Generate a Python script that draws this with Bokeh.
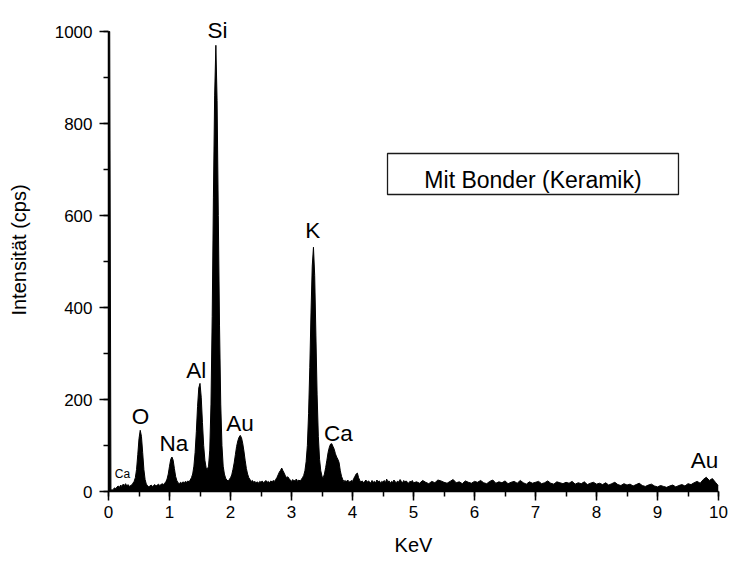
import numpy as np
from bokeh.plotting import figure
from bokeh.models import (ColumnDataSource, SingleIntervalTicker, BoxAnnotation,
                          Label, Range1d)
from bokeh.embed import file_html
from bokeh.resources import INLINE
from bokeh.core.properties import value

# ---- data -------------------------------------------------------------
# channel energies (keV): fine channels 0..5 keV, coarser 5.05..10 keV
kev_low = np.round(np.arange(251) * 0.02, 2)
kev_high = np.round(5.05 + np.arange(100) * 0.05, 2)

# counts per second
cps_low = [
    1000, 1000, 4, 3, 5, 8, 6, 10, 12, 9,          # 0.00-0.18
    14, 11, 16, 13, 17, 12, 15, 11, 13, 14,        # 0.20-0.38
    18, 22, 30, 48, 80, 115, 133, 120, 85, 48,     # 0.40-0.58  O
    26, 16, 13, 10, 12, 14, 11, 13, 15, 12,        # 0.60-0.78
    14, 16, 13, 15, 17, 15, 18, 21, 27, 38,        # 0.80-0.98
    55, 70, 75, 68, 50, 33, 24, 19, 17, 20,        # 1.00-1.18  Na
    18, 21, 19, 22, 20, 23, 21, 25, 30, 38,        # 1.20-1.38
    55, 85, 130, 185, 225, 235, 205, 150, 100, 68,  # 1.40-1.58  Al
    52, 48, 55, 90, 190, 380, 640, 860, 970, 850,  # 1.60-1.78  Si
    600, 360, 190, 100, 55, 38, 29, 25, 23, 26,    # 1.80-1.98
    30, 36, 48, 62, 80, 98, 110, 118, 122, 117,    # 2.00-2.18  Au
    105, 88, 68, 50, 38, 30, 26, 22, 24, 20,       # 2.20-2.38
    22, 19, 21, 18, 22, 20, 23, 19, 21, 24,        # 2.40-2.58
    20, 22, 19, 23, 21, 24, 22, 26, 30, 36,        # 2.60-2.78
    42, 46, 51, 45, 40, 34, 30, 32, 28, 25,        # 2.80-2.98
    22, 26, 23, 24, 27, 22, 25, 23, 26, 30,        # 3.00-3.18
    35, 45, 65, 100, 170, 270, 390, 490, 531, 470,  # 3.20-3.38  K
    340, 210, 120, 70, 45, 33, 30, 38, 52, 68,     # 3.40-3.58
    85, 96, 103, 104, 98, 92, 82, 75, 70, 63,      # 3.60-3.78  Ca
    45, 33, 26, 22, 24, 21, 25, 22, 20, 24,        # 3.80-3.98
    22, 28, 33, 38, 40, 30, 24, 21, 23, 19,        # 4.00-4.18
    22, 25, 20, 23, 21, 18, 24, 20, 22, 19,        # 4.20-4.38
    25, 21, 23, 18, 22, 20, 24, 19, 27, 21,        # 4.40-4.58
    23, 18, 22, 20, 25, 21, 19, 23, 20, 26,        # 4.60-4.78
    22, 19, 24, 21, 23, 20, 18, 22, 21, 24,        # 4.80-4.98
    19,                                            # 5.00
]
cps_high = [
    21, 18, 24, 20, 17, 22, 19, 25, 23, 20,        # 5.05-5.50
    18, 22, 26, 19, 21, 17, 23, 20, 18, 22,        # 5.55-6.00
    20, 24, 19, 17, 22, 25, 18, 21, 19, 23,        # 6.05-6.50
    17, 20, 22, 18, 24, 19, 16, 21, 18, 20,        # 6.55-7.00
    22, 17, 19, 23, 18, 16, 21, 19, 17, 20,        # 7.05-7.50
    18, 22, 16, 19, 17, 21, 15, 18, 20, 16,        # 7.55-8.00
    18, 15, 19, 14, 17, 20, 15, 13, 17, 14,        # 8.05-8.50
    16, 12, 15, 18, 13, 11, 14, 16, 12, 10,        # 8.55-9.00
    13, 11, 9, 12, 14, 10, 13, 15, 12, 17,         # 9.05-9.50
    15, 19, 22, 18, 26, 31, 24, 28, 20, 12,        # 9.55-10.00
]

# peak annotations (text, keV, cps of baseline)
peak_labels = ["Si", "K", "O", "Na", "Al", "Au", "Ca", "Au"]
peak_label_kev = [1.787, 3.35, 0.525, 1.07, 1.44, 2.155, 3.77, 9.77]
peak_label_cps = [1002, 567, 163, 104, 263, 148, 126, 67]
minor_labels = ["Ca"]
minor_label_kev = [0.23]
minor_label_cps = [39]

legend_text = "Mit Bonder (Keramik)"
x_ticks_interval = 1
y_ticks_interval = 200

# ---- figure -----------------------------------------------------------
kev = np.concatenate([kev_low, kev_high])
cps = np.array(cps_low + cps_high, dtype=float)
src = ColumnDataSource(data=dict(kev=kev, cps=cps))

FONT = "Liberation Sans"

p = figure(width=734, height=562, output_backend="svg", toolbar_location=None,
           x_range=Range1d(0, 10), y_range=Range1d(0, 1050),
           min_border_left=108, min_border_right=16, min_border_top=8,
           min_border_bottom=71)
p.outline_line_color = None
p.grid.visible = False
p.background_fill_color = "white"
p.border_fill_color = "white"

p.varea(x="kev", y1=0, y2="cps", source=src, fill_color="black")
p.line(x="kev", y="cps", source=src, line_color="black", line_width=1)

p.text(x=peak_label_kev, y=peak_label_cps, text=peak_labels,
       text_font=value(FONT), text_font_size="22.5px", text_color="black",
       text_align="center", text_baseline="alphabetic")
p.text(x=minor_label_kev, y=minor_label_cps, text=minor_labels,
       text_font=value(FONT), text_font_size="12px", text_color="black",
       text_align="center", text_baseline="alphabetic")

# legend-like box
box = BoxAnnotation(left=4.574, right=9.344, bottom=645.7, top=734.8,
                    fill_color="white", fill_alpha=1.0,
                    line_color="#1a1a1a", line_alpha=1.0, line_width=1.3)
p.add_layout(box)
p.add_layout(Label(x=6.959, y=676.1, text=legend_text, text_font=FONT,
                   text_font_size="23px", text_color="black",
                   text_align="center", text_baseline="alphabetic"))

# axes
xa = p.xaxis[0]
ya = p.yaxis[0]
xa.ticker = SingleIntervalTicker(interval=x_ticks_interval, num_minor_ticks=2)
ya.ticker = SingleIntervalTicker(interval=y_ticks_interval, num_minor_ticks=2)
xa.bounds = (0, 10)
ya.bounds = (0, 1000)
for ax in (xa, ya):
    ax.axis_line_width = 1.5
    ax.axis_line_color = "black"
    ax.major_tick_line_width = 1.5
    ax.minor_tick_line_width = 1.5
    ax.major_tick_line_color = "black"
    ax.minor_tick_line_color = "black"
    ax.major_tick_in = 0
    ax.major_tick_out = 9
    ax.minor_tick_in = 0
    ax.minor_tick_out = 5
    ax.major_label_text_font = FONT
    ax.major_label_text_font_size = "17px"
    ax.major_label_text_color = "black"
    ax.axis_label_text_font = FONT
    ax.axis_label_text_font_size = "20px"
    ax.axis_label_text_font_style = "normal"
    ax.axis_label_text_color = "black"
xa.major_label_standoff = 5
ya.major_label_standoff = 7

ya.axis_label = "Intensität (cps)"
ya.axis_label_standoff = 22
xa.axis_label = "KeV"
xa.axis_label_standoff = 13

open("out.html", "w").write(file_html(p, INLINE))
